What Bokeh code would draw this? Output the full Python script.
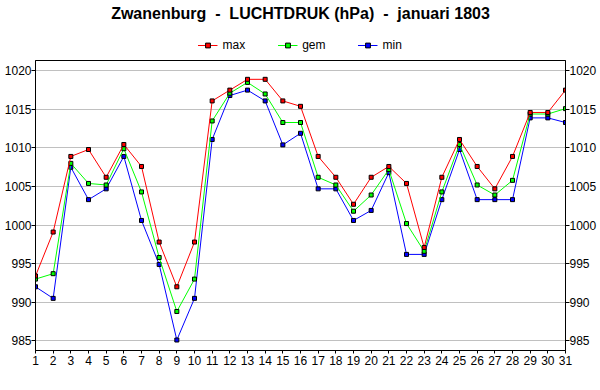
from bokeh.plotting import figure
from bokeh.layouts import column
from bokeh.models import Range1d, LinearAxis, FixedTicker, Legend, LegendItem
from bokeh.embed import file_html
from bokeh.resources import INLINE

days = list(range(1, 32))
p_max = [993.4, 999.1, 1008.9, 1009.8, 1006.2, 1010.45, 1007.6, 997.8, 992.0, 997.8,
         1016.1, 1017.5, 1018.9, 1018.9, 1016.1, 1015.4, 1008.9, 1006.2, 1002.7, 1006.2,
         1007.6, 1005.4, 997.1, 1006.2, 1011.1, 1007.6, 1004.7, 1008.9, 1014.6, 1014.6, 1017.5]
p_gem = [993.0, 993.7, 1008.0, 1005.4, 1005.2, 1009.9, 1004.3, 995.8, 988.8, 993.0,
         1013.5, 1017.1, 1018.5, 1017.0, 1013.3, 1013.3, 1006.2, 1005.2, 1001.8, 1003.9,
         1007.2, 1000.2, 996.6, 1004.3, 1010.45, 1005.2, 1003.9, 1005.8, 1014.4, 1014.4, 1015.1]
p_min = [992.0, 990.5, 1007.5, 1003.3, 1004.7, 1008.9, 1000.6, 994.9, 985.1, 990.5,
         1011.1, 1016.8, 1017.5, 1016.1, 1010.4, 1011.9, 1004.7, 1004.7, 1000.6, 1001.9,
         1006.8, 996.2, 996.2, 1003.3, 1009.8, 1003.3, 1003.3, 1003.3, 1013.9, 1013.9, 1013.3]
y_ticks = [985, 990, 995, 1000, 1005, 1010, 1015, 1020]
series_names = ["max", "gem", "min"]
series_colors = ["#ff0000", "#00ff00", "#0000ff"]
series_values = [p_max, p_gem, p_min]

FONT = "Liberation Sans"

# ---- header: title + legend ----
head = figure(width=600, height=52, output_backend="svg", toolbar_location=None,
              x_range=Range1d(0, 1), y_range=Range1d(0, 1),
              x_axis_type=None, y_axis_type=None,
              min_border_left=0, min_border_right=0, min_border_top=0, min_border_bottom=0)
head.outline_line_color = None
head.grid.visible = False
head.title.text = "Zwanenburg \u00a0-\u00a0 LUCHTDRUK (hPa) \u00a0-\u00a0 januari 1803"
head.title.align = "center"
head.title.text_font = FONT
head.title.text_font_size = "16px"
head.title.text_font_style = "bold"
head.title.text_color = "#000000"
head.title.standoff = 4

leg_items = []
for name, vals, col in zip(series_names, series_values, series_colors):
    ln = head.line(days, vals, line_color=col, line_width=1, visible=False)
    sc = head.scatter(days, vals, marker="square", size=4, fill_color=col,
                      line_color="black", line_width=1, visible=False)
    leg_items.append(LegendItem(label=name, renderers=[ln, sc]))

legend = Legend(items=leg_items, orientation="horizontal", location="bottom_center",
                border_line_color=None, background_fill_alpha=0,
                padding=0, margin=0, spacing=32, label_standoff=5,
                glyph_width=20, glyph_height=12,
                label_text_font=FONT, label_text_font_size="12px",
                label_text_color="black")
head.add_layout(legend, "center")

# ---- main chart ----
p = figure(width=600, height=338, output_backend="svg", toolbar_location=None,
           x_range=Range1d(1, 31), y_range=Range1d(983.74, 1021.34),
           min_border_left=35, min_border_right=35, min_border_top=8, min_border_bottom=40)

p.outline_line_color = "black"
p.outline_line_alpha = 1.0
p.xgrid.visible = False
p.ygrid.grid_line_color = "#c0c0c0"
p.ygrid.ticker = FixedTicker(ticks=y_ticks)

p.add_layout(LinearAxis(), "right")

for ax in p.yaxis:
    ax.ticker = FixedTicker(ticks=y_ticks)
    ax.major_tick_out = 4
    ax.major_tick_in = 0
    ax.minor_tick_line_color = None
    ax.major_label_standoff = 0
    ax.major_label_text_font = FONT
    ax.major_label_text_font_size = "12px"
    ax.major_label_text_color = "black"
    ax.axis_line_color = "black"
    ax.major_tick_line_color = "black"

for ax in p.xaxis:
    ax.ticker = FixedTicker(ticks=days)
    ax.major_tick_out = 3
    ax.major_tick_in = 0
    ax.minor_tick_line_color = None
    ax.major_label_standoff = 2
    ax.major_label_text_font = FONT
    ax.major_label_text_font_size = "12px"
    ax.major_label_text_color = "black"
    ax.axis_line_color = "black"
    ax.major_tick_line_color = "black"

for vals, col in reversed(list(zip(series_values, series_colors))):
    p.line(days, vals, line_color=col, line_width=1)
    p.scatter(days, vals, marker="square", size=4, fill_color=col,
              line_color="black", line_width=1)

layout = column(head, p, spacing=0)
open("out.html", "w").write(file_html(layout, INLINE))
